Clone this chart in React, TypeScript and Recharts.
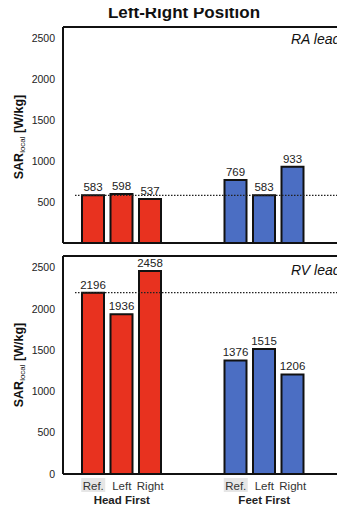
import {
  Bar,
  BarChart,
  Cell,
  LabelList,
  ReferenceLine,
  XAxis,
  YAxis,
} from "recharts";

import { ReactElement } from "react";

const conditions = ["Ref.", "Left", "Right"];
const groups = ["Head First", "Feet First"];
const raHeadFirst = [583, 598, 537];
const raFeetFirst = [769, 583, 933];
const rvHeadFirst = [2196, 1936, 2458];
const rvFeetFirst = [1376, 1515, 1206];
const yTicks = [0, 500, 1000, 1500, 2000, 2500];
const yMax = 2640;

const RED = "#E8321F";
const BLUE = "#4B6EC3";
const FONT = "'Liberation Sans', Arial, Helvetica, sans-serif";

type Row = {
  slot: string;
  label: string;
  group: string;
  value: number | null;
  color: string;
};

function buildRows(headFirst: number[], feetFirst: number[]): Row[] {
  const rows: Row[] = [];
  conditions.forEach((c, i) =>
    rows.push({
      slot: `hf-${i}`,
      label: c,
      group: i === 1 ? groups[0] : "",
      value: headFirst[i],
      color: RED,
    })
  );
  rows.push({ slot: "gap-1", label: "", group: "", value: null, color: RED });
  rows.push({ slot: "gap-2", label: "", group: "", value: null, color: RED });
  conditions.forEach((c, i) =>
    rows.push({
      slot: `ff-${i}`,
      label: c,
      group: i === 1 ? groups[1] : "",
      value: feetFirst[i],
      color: BLUE,
    })
  );
  rows.push({ slot: "gap-3", label: "", group: "", value: null, color: RED });
  rows.push({ slot: "gap-4", label: "", group: "", value: null, color: RED });
  return rows;
}

const raRows = buildRows(raHeadFirst, raFeetFirst);
const rvRows = buildRows(rvHeadFirst, rvFeetFirst);

function ConditionTick(props: any): ReactElement {
  const { x, y, payload, rows } = props;
  const row: Row | undefined = rows.find((r: Row) => r.slot === payload.value);
  if (!row || !row.label) return <g />;
  return (
    <g>
      {row.label === "Ref." && (
        <rect x={x - 12} y={y - 4} width={24} height={14} fill="#E6E6E6" />
      )}
      <text
        x={x}
        y={y + 8}
        textAnchor="middle"
        fontSize={11.5}
        fill="#333"
        fontFamily={FONT}
      >
        {row.label}
      </text>
      {row.group && (
        <text
          x={x}
          y={y + 22}
          textAnchor="middle"
          fontSize={11.5}
          fontWeight="bold"
          fill="#222"
          fontFamily={FONT}
        >
          {row.group}
        </text>
      )}
    </g>
  );
}

function Panel({
  rows,
  refValue,
  top,
  height,
  marginTop,
  xHeight,
  showTicks,
}: {
  rows: Row[];
  refValue: number;
  top: number;
  height: number;
  marginTop: number;
  xHeight: number;
  showTicks: boolean;
}): ReactElement {
  return (
    <div style={{ position: "absolute", left: 0, top }}>
      <BarChart
        width={400}
        height={height}
        data={rows}
        margin={{ top: marginTop, right: 36, bottom: 0, left: 0 }}
        barSize={22}
      >
        <XAxis
          dataKey="slot"
          height={xHeight}
          padding={{ left: 16, right: 0 }}
          axisLine={{ stroke: "#111", strokeWidth: 2 }}
          tickLine={false}
          interval={0}
          tick={
            showTicks ? (p: any) => <ConditionTick {...p} rows={rows} /> : false
          }
        />
        <YAxis
          width={63}
          domain={[0, yMax]}
          ticks={yTicks}
          allowDataOverflow
          axisLine={{ stroke: "#111", strokeWidth: 2 }}
          tickLine={false}
          tick={{ fontSize: 10.5, fill: "#222", fontFamily: FONT }}
        />
        <ReferenceLine
          y={yMax}
          stroke="#111"
          strokeWidth={2}
          ifOverflow="visible"
        />
        <ReferenceLine
          y={refValue}
          ifOverflow="visible"
          shape={(p: any) => (
            <line
              x1={p.x1 + 12}
              y1={p.y1}
              x2={p.x2}
              y2={p.y2}
              stroke="#222"
              strokeWidth={1.3}
              strokeDasharray="1.5 1.5"
            />
          )}
        />
        <Bar
          dataKey="value"
          stroke="#111"
          strokeWidth={2}
          isAnimationActive={false}
        >
          {rows.map((r) => (
            <Cell key={r.slot} fill={r.color} />
          ))}
          <LabelList
            dataKey="value"
            position="top"
            offset={4}
            style={{ fontSize: 11.5, fill: "#222", fontFamily: FONT }}
          />
        </Bar>
      </BarChart>
    </div>
  );
}

function YLabel({ centerY }: { centerY: number }): ReactElement {
  return (
    <div
      style={{
        position: "absolute",
        left: 21,
        top: centerY,
        transform: "translate(-50%, -50%) rotate(-90deg)",
        whiteSpace: "nowrap",
        fontFamily: FONT,
        fontWeight: "bold",
        fontSize: 12.5,
        lineHeight: "14px",
        color: "#111",
      }}
    >
      SAR
      <span style={{ fontSize: 8, fontWeight: "normal", verticalAlign: "-2px" }}>
        local
      </span>{" "}
      [W/kg]
    </div>
  );
}

function PanelTag({ text, top }: { text: string; top: number }): ReactElement {
  return (
    <div
      style={{
        position: "absolute",
        left: 291,
        top,
        zIndex: 2,
        whiteSpace: "nowrap",
        fontFamily: FONT,
        fontStyle: "italic",
        fontSize: 14,
        lineHeight: "16px",
        color: "#111",
      }}
    >
      {text}
    </div>
  );
}

export default function App(): ReactElement {
  return (
    <div
      style={{
        position: "relative",
        margin: "-8px 0 0 -8px",
        width: 345,
        height: 506,
        overflow: "hidden",
        background: "#fff",
      }}
    >
      <Panel
        rows={raRows}
        refValue={raHeadFirst[0]}
        top={0}
        height={248}
        marginTop={27}
        xHeight={5}
        showTicks={false}
      />
      <Panel
        rows={rvRows}
        refValue={rvHeadFirst[0]}
        top={250}
        height={256}
        marginTop={6}
        xHeight={32}
        showTicks={true}
      />
      <div
        style={{
          position: "absolute",
          left: 0,
          top: 3,
          zIndex: 2,
          width: 368,
          textAlign: "center",
          fontFamily: FONT,
          fontWeight: "bold",
          fontSize: 17,
          lineHeight: "20px",
          color: "#111",
        }}
      >
        Left-Right Position
      </div>
      <YLabel centerY={137} />
      <YLabel centerY={365} />
      <PanelTag text="RA leads" top={31} />
      <PanelTag text="RV leads" top={262} />
    </div>
  );
}
